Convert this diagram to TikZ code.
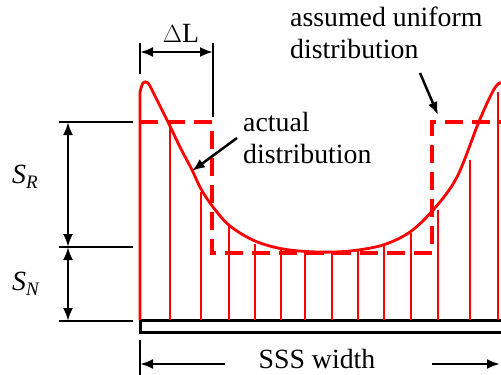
\documentclass[tikz,border=0pt]{standalone}
\usepackage{fontspec}
\setmainfont{Liberation Serif}
\usetikzlibrary{arrows.meta}

\begin{document}
\begin{tikzpicture}
[x=1pt,y=-1pt,
every node/.style={inner sep=0pt, font=\fontsize{27.8}{32}\selectfont},
dim/.style={line width=1.8pt},
dimarrow/.style={line width=2.5pt,{Latex[length=13pt,width=10pt]}-{Latex[length=13pt,width=10pt]}},
pointer/.style={line width=2.5pt,-{Latex[length=13pt,width=10pt]}},
curve/.style={red,line width=2.8pt,line join=round},
hatch/.style={red,line width=1.6pt},
uniform/.style={red,line width=4pt,dash pattern=on 18pt off 9pt}]
\clip (0,0) rectangle (501,375);
\def \base {320} % top of the plate

% plate
\draw[line width=3pt, fill=white] (140,\base) rectangle (515,332);

% stress lines under the curve
\foreach \x/\y in {170/124, 201/192, 229/224, 255/244, 281/250, 305/252, 332/252,
                   358/251, 384/246, 411/233, 438/210, 470/160, 498/92}
{
  \draw[hatch] (\x,\base) -- (\x,\y);
}

% actual distribution
\draw[curve] (140,\base) -- (140,92) plot[smooth, tension=0.55] coordinates {(140,92) (143,83) (148,83) (155,96)
  (168,122) (180,147) (192,170) (201,189) (213,207) (230,226) (255,241) (283,249) (317,252)
  (350,251) (383,245) (410,232) (434,209) (457,177) (478,124) (490,97) (498,84) (508,82)};

% assumed uniform distribution
\draw[uniform] (140,122) -- (212,122) -- (212,253) -- (432,253) -- (432,122) -- (510,122);

% Delta L
\coordinate (dlA) at (140,43);
\coordinate (dlB) at (213,43);
\draw[dim] (dlA) -- (140,74);
\draw[dim] (dlB) -- (213,117);
\draw[dimarrow] ([yshift=-9pt]dlA) -- ([yshift=-9pt]dlB);
\node[anchor=base] (dL) at (181,42) {$\Delta$L};

% S_R and S_N
\coordinate (top) at (59,122);
\coordinate (mid) at (59,247);
\coordinate (bot) at (59,321);
\foreach \c in {top,mid,bot}
{
  \draw[dim] (\c) -- ++(74,0);
}
\draw[dimarrow] ([xshift=9pt]top) -- ([xshift=9pt]mid);
\draw[dimarrow] ([xshift=9pt]mid) -- ([xshift=9pt]bot);
\node[anchor=base west] (SR) at (12,183) {\textit{S}\raisebox{-5pt}{\fontsize{19}{20}\selectfont\textit{R}}};
\node[anchor=base west] (SN) at (12,290) {\textit{S}\raisebox{-5pt}{\fontsize{19}{20}\selectfont\textit{N}}};

% labels (anchored at the last line)
\node[anchor=base west, align=left] (assumed) at (290,58) {assumed uniform\\distribution};
\node[anchor=base west, align=left] (actual) at (243,163) {actual\\distribution};
\coordinate (assumedtip) at (438,115);
\coordinate (actualtip) at (192,171);
\draw[pointer] (420,73) -- (assumedtip);
\draw[pointer] (237,138) -- (actualtip);

% SSS width
\coordinate (wA) at (140,340);
\coordinate (wB) at (500,364);
\draw[dim] (wA) -- (140,375);
\node[anchor=base] (width) at (317,368) {SSS width};
\draw[pointer] (225,364) -- (140,364);
\draw[pointer] (432,364) -- (wB);
\end{tikzpicture}
\end{document}
